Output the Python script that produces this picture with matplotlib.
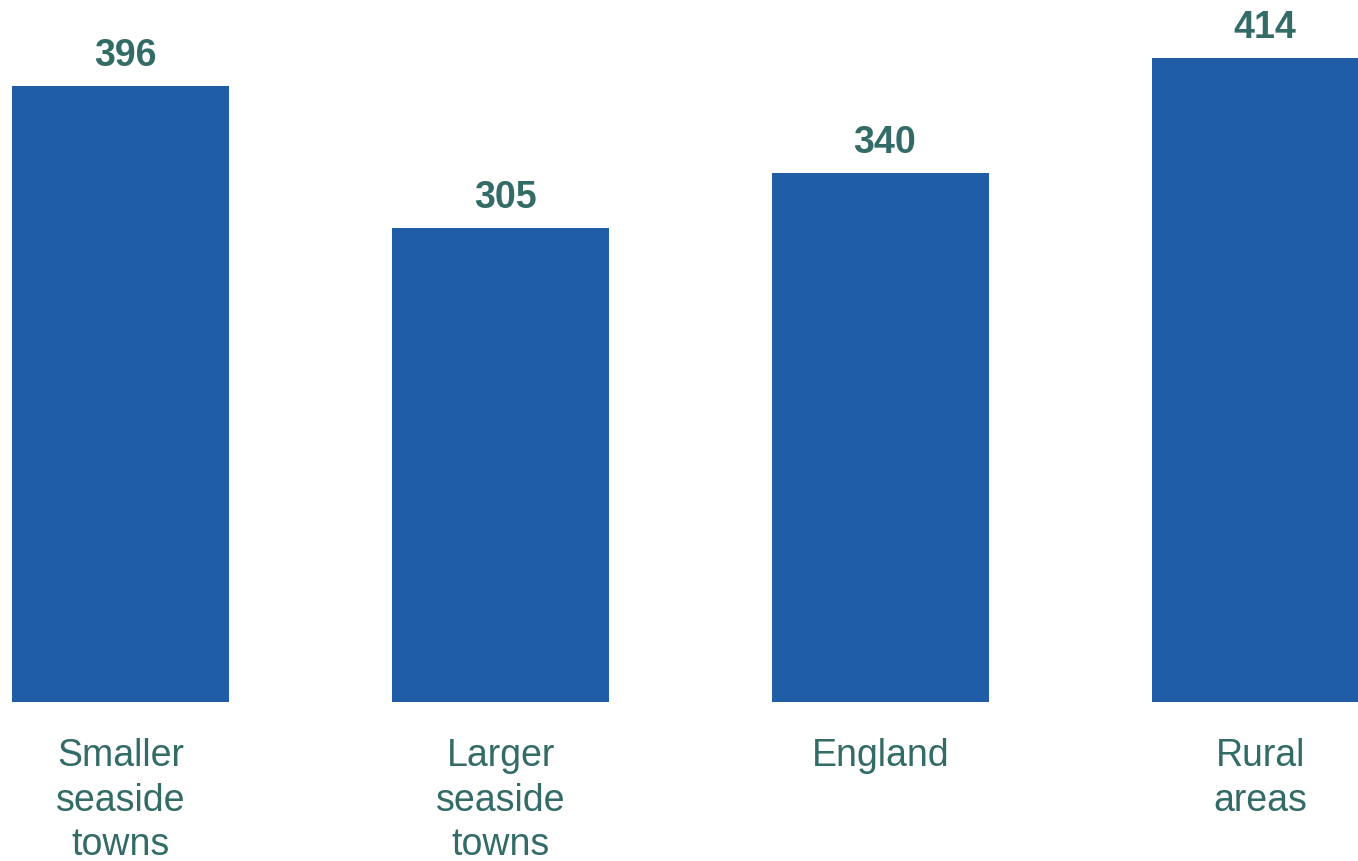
import matplotlib
matplotlib.use("Agg")
import matplotlib.pyplot as plt

categories = ["Smaller\nseaside\ntowns", "Larger\nseaside\ntowns", "England", "Rural\nareas"]
values = [396, 305, 340, 414]

bar_color = "#1F5DA7"
text_color = "#336B67"

plt.rcParams["font.family"] = ["Liberation Sans", "DejaVu Sans"]

W, H = 1358, 861
fig = plt.figure(figsize=(W / 100, H / 100), dpi=100)
# axes: baseline at pixel 702, top at pixel 0
ax = fig.add_axes([0, (H - 702) / H, 1, 702 / H])
px_per_unit = (702 - 86) / 396.0
ax.set_ylim(0, 702 / px_per_unit)
ax.set_xlim(-120.5 / 380, (W - 120.5) / 380)

x = list(range(len(categories)))
ax.bar(x, values, width=217 / 380, color=bar_color)

for xi, v in zip(x, values):
    ax.annotate(str(v), (xi, v), xytext=(3.2, 8.5), textcoords="offset points",
                ha="center", va="bottom", fontsize=27, fontweight="bold",
                color=text_color, annotation_clip=False)

for xi, c in zip(x, categories):
    ax.annotate(c, (xi, 0), xytext=(0, -26), textcoords="offset points",
                ha="center", va="top", fontsize=27, color=text_color,
                linespacing=1.3, annotation_clip=False)

ax.axis("off")
fig.savefig("out.png", dpi=100)
